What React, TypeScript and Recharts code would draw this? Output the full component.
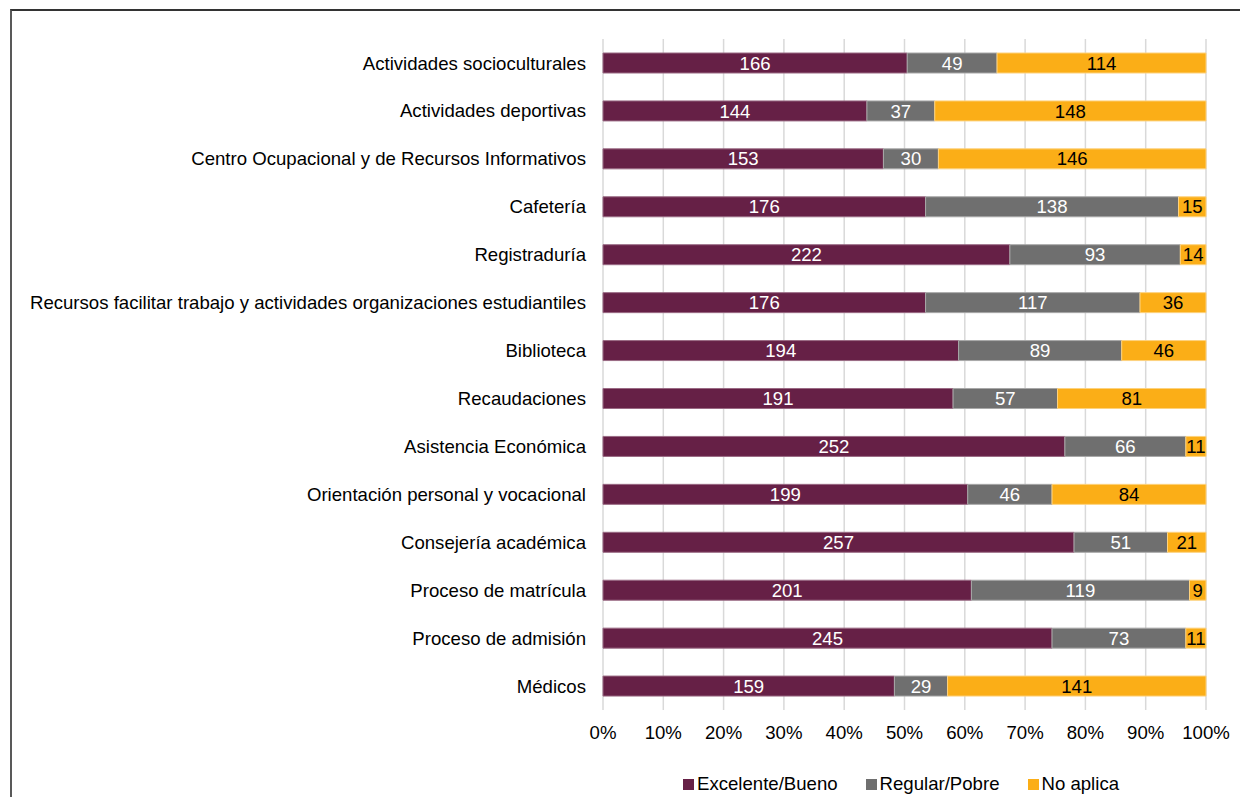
import { Bar, BarChart, CartesianGrid, LabelList, XAxis, YAxis } from "recharts";

const categories = [
  "Actividades socioculturales",
  "Actividades deportivas",
  "Centro Ocupacional y de Recursos Informativos",
  "Cafetería",
  "Registraduría",
  "Recursos facilitar trabajo y actividades organizaciones estudiantiles",
  "Biblioteca",
  "Recaudaciones",
  "Asistencia Económica",
  "Orientación personal y vocacional",
  "Consejería académica",
  "Proceso de matrícula",
  "Proceso de admisión",
  "Médicos",
];

const excelenteBueno = [166, 144, 153, 176, 222, 176, 194, 191, 252, 199, 257, 201, 245, 159];
const regularPobre = [49, 37, 30, 138, 93, 117, 89, 57, 66, 46, 51, 119, 73, 29];
const noAplica = [114, 148, 146, 15, 14, 36, 46, 81, 11, 84, 21, 9, 11, 141];

const xTicks = [0, 0.1, 0.2, 0.3, 0.4, 0.5, 0.6, 0.7, 0.8, 0.9, 1];

const SERIES = [
  { key: "exc", name: "Excelente/Bueno", color: "#662046", stroke: "#9a6a84", text: "#ffffff" },
  { key: "reg", name: "Regular/Pobre", color: "#6f6f6f", stroke: "#a8a8a8", text: "#ffffff" },
  { key: "na", name: "No aplica", color: "#fbae17", stroke: "#fdd27e", text: "#000000" },
];

const FONT = "'Liberation Sans', Arial, sans-serif";
const FS = 18.6;

export default function App() {
  const rows = categories.map((name, i) => ({
    name,
    exc: excelenteBueno[i],
    reg: regularPobre[i],
    na: noAplica[i],
  }));

  return (
    <div style={{ position: "relative", width: 1240, height: 790, fontFamily: FONT }}>
      <div
        style={{
          position: "absolute",
          left: 2,
          top: 1,
          width: 1236,
          height: 788,
          borderTop: "2px solid #333",
          borderLeft: "2px solid #595959",
          boxSizing: "border-box",
          pointerEvents: "none",
        }}
      />
      <BarChart
        width={1240}
        height={760}
        data={rows}
        layout="vertical"
        stackOffset="expand"
        barSize={20}
        margin={{ top: 31, right: 42, left: 0, bottom: 0 }}
      >
        <CartesianGrid horizontal={false} stroke="#d9d9d9" strokeWidth={1.5} />
        <XAxis
          type="number"
          domain={[0, 1]}
          ticks={xTicks}
          tickFormatter={(v) => `${Math.round(Number(v) * 100)}%`}
          axisLine={false}
          tickLine={false}
          tickSize={0}
          tickMargin={16}
          height={58}
          interval={0}
          tick={{ fill: "#000", fontSize: FS, fontFamily: FONT }}
        />
        <YAxis
          type="category"
          dataKey="name"
          width={595}
          axisLine={false}
          tickLine={false}
          tickSize={0}
          tickMargin={17}
          interval={0}
          tick={{ fill: "#000", fontSize: FS, fontFamily: FONT }}
        />
        {SERIES.map((s) => (
          <Bar
            key={s.key}
            dataKey={s.key}
            name={s.name}
            stackId="a"
            fill={s.color}
            stroke={s.stroke}
            strokeWidth={1}
            isAnimationActive={false}
          >
            <LabelList
              dataKey={s.key}
              position="center"
              fill={s.text}
              style={{ fontSize: FS, fontFamily: FONT }}
            />
          </Bar>
        ))}
      </BarChart>
      <div
        style={{
          position: "absolute",
          left: 675,
          top: 765,
          display: "flex",
          alignItems: "center",
          fontSize: FS,
          color: "#000",
        }}
      >
        {SERIES.map((s) => (
          <div key={s.key} style={{ display: "flex", alignItems: "center", marginRight: 28 }}>
            <span style={{ width: 11, height: 11, background: s.color, marginRight: 3, display: "inline-block" }} />
            <span>{s.name}</span>
          </div>
        ))}
      </div>
    </div>
  );
}
